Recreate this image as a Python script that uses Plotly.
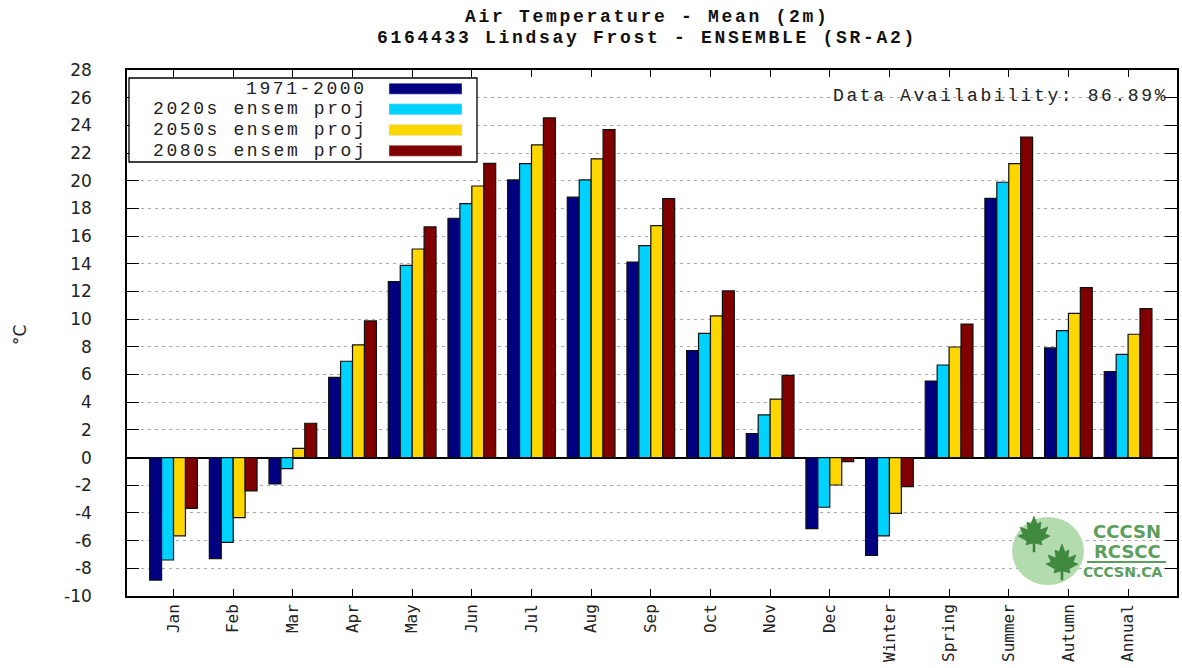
import plotly.graph_objects as go

categories = ["Jan", "Feb", "Mar", "Apr", "May", "Jun", "Jul", "Aug", "Sep", "Oct", "Nov", "Dec",
              "Winter", "Spring", "Summer", "Autumn", "Annual"]

base_1971_2000 = [-8.85, -7.30, -1.91, 5.80, 12.71, 17.29, 20.06, 18.81, 14.13, 7.73, 1.73, -5.13,
                  -7.06, 5.53, 18.73, 7.92, 6.21]
ens_2020s = [-7.40, -6.12, -0.80, 6.96, 13.89, 18.35, 21.24, 20.06, 15.31, 8.98, 3.08, -3.59,
             -5.66, 6.69, 19.89, 9.17, 7.46]
ens_2050s = [-5.66, -4.34, 0.67, 8.14, 15.07, 19.62, 22.59, 21.58, 16.76, 10.23, 4.23, -1.98,
             -4.03, 7.99, 21.24, 10.42, 8.91]
ens_2080s = [-3.67, -2.41, 2.48, 9.87, 16.66, 21.26, 24.54, 23.69, 18.71, 12.04, 5.94, -0.29,
             -2.10, 9.65, 23.16, 12.28, 10.76]

series_names = ["1971-2000", "2020s ensem proj", "2050s ensem proj", "2080s ensem proj"]
series_values = [base_1971_2000, ens_2020s, ens_2050s, ens_2080s]
series_colors = ["#000080", "#00d2ff", "#ffd700", "#800000"]

y_ticks = list(range(-10, 29, 2))

title_lines = ["Air Temperature - Mean (2m)", "6164433 Lindsay Frost - ENSEMBLE (SR-A2)"]

W, H = 1182, 668
L, R, T, B = 127, 5, 70, 72
PW, PH = W - L - R, H - T - B


def px(xp):
    return (xp - L) / PW


def py(yp):
    return (H - B - yp) / PH


fig = go.Figure()
for name, vals, col in zip(series_names, series_values, series_colors):
    fig.add_trace(go.Bar(
        x=categories, y=vals, name=name,
        marker=dict(color=col, line=dict(color="#111111", width=1.2)),
        showlegend=False,
    ))

mono = "Liberation Mono"
shapes = []
annotations = []

# titles
for txt, ty in zip(title_lines, [17, 38]):
    annotations.append(dict(
        xref="paper", yref="paper", x=px(647), y=py(ty), xanchor="center", yanchor="middle",
        text='<span style="letter-spacing:2.7px">' + txt + '</span>', showarrow=False,
        font=dict(family=mono, size=18, color="#111111", weight="bold")))

# y axis label
annotations.append(dict(
    xref="paper", yref="paper", x=px(20), y=py(335), xanchor="center", yanchor="middle",
    text="°C", textangle=-90, showarrow=False,
    font=dict(family="DejaVu Sans", size=17, color="#222222")))

# custom legend (text left, swatch right) as in the reference
shapes.append(dict(type="rect", xref="paper", yref="paper",
                   x0=px(129), x1=px(477), y0=py(162), y1=py(78),
                   line=dict(color="black", width=1.3), fillcolor="white", layer="above"))
row_y = [88.7, 109.3, 130.0, 150.7]
for name, col, ry in zip(series_names, series_colors, row_y):
    shapes.append(dict(type="rect", xref="paper", yref="paper",
                       x0=px(389), x1=px(462), y0=py(ry + 5.5), y1=py(ry - 5.5),
                       line=dict(color="#dddddd", width=0.5), fillcolor=col, layer="above"))
    annotations.append(dict(
        xref="paper", yref="paper", x=px(369), y=py(ry), xanchor="right", yanchor="middle",
        text='<span style="letter-spacing:2.6px">' + name + '</span>', showarrow=False,
        font=dict(family=mono, size=18, color="#222222")))

annotations.append(dict(
    xref="paper", yref="paper", x=px(1170), y=py(96), xanchor="right", yanchor="middle",
    text='<span style="letter-spacing:2.6px">Data Availability: 86.89%</span>', showarrow=False,
    font=dict(family=mono, size=18, color="#222222")))

# logo
shapes.append(dict(type="circle", xref="paper", yref="paper",
                   x0=px(1012), x1=px(1084), y0=py(585), y1=py(517),
                   line=dict(width=0), fillcolor="#b3dcae", layer="above"))
leaf = [(0, 1), (0.15, 0.6), (0.35, 0.7), (0.3, 0.3), (0.7, 0.45), (0.55, 0.1), (0.8, 0),
        (0.35, -0.25), (0.4, -0.45), (0.05, -0.35), (0.05, -0.8), (-0.05, -0.8), (-0.05, -0.35),
        (-0.4, -0.45), (-0.35, -0.25), (-0.8, 0), (-0.55, 0.1), (-0.7, 0.45), (-0.3, 0.3),
        (-0.35, 0.7), (-0.15, 0.6)]
for cx, cy, s in [(1034, 536, 20), (1062, 564, 20)]:
    pts = [(px(cx + s * a), py(cy - s * b)) for a, b in leaf]
    path = "M " + " L ".join(f"{a:.5f},{b:.5f}" for a, b in pts) + " Z"
    shapes.append(dict(type="path", xref="paper", yref="paper", path=path,
                       line=dict(color="#2f6e2f", width=0.5), fillcolor="#3f8a3f", layer="above"))
green = "#5c9e5c"
for txt, ty, sz, cx in [("CCCSN", 531, 18, 1127), ("RCSCC", 551, 18, 1127), ("CCCSN.CA", 572, 14, 1122)]:
    annotations.append(dict(xref="paper", yref="paper", x=px(cx), y=py(ty),
                            xanchor="center", yanchor="middle", text="<b>" + txt + "</b>",
                            showarrow=False, font=dict(family="DejaVu Sans", size=sz, color=green)))
shapes.append(dict(type="line", xref="paper", yref="paper", x0=px(1087), x1=px(1166),
                   y0=py(562), y1=py(562), line=dict(color=green, width=2), layer="above"))

fig.update_layout(
    width=W, height=H,
    margin=dict(l=L, r=R, t=T, b=B, autoexpand=False),
    paper_bgcolor="white", plot_bgcolor="white",
    barmode="group", bargap=0.2, bargroupgap=0.0,
    shapes=shapes, annotations=annotations,
    xaxis=dict(
        type="category", range=[-0.78, 16.82], tickangle=-90, automargin=False,
        tickfont=dict(family="DejaVu Sans Mono", size=16, color="#222222"),
        ticks="inside", ticklen=7, tickcolor="black", tickwidth=1.2,
        showline=True, linecolor="black", linewidth=1.5, mirror="allticks",
        showgrid=False, fixedrange=True,
    ),
    yaxis=dict(
        range=[-10, 28], tickvals=y_ticks, ticktext=[str(v) for v in y_ticks], automargin=False,
        tickfont=dict(family="DejaVu Sans", size=17, color="#222222"),
        ticks="inside", ticklen=12, tickcolor="black", tickwidth=1.2, ticklabelstandoff=30,
        showline=True, linecolor="black", linewidth=1.5, mirror="allticks",
        showgrid=True, gridcolor="#a8a8a8", gridwidth=1, griddash="3px,4px",
        zeroline=True, zerolinecolor="black", zerolinewidth=1.5,
        fixedrange=True,
    ),
)

fig.write_html("out.html", config={"displayModeBar": False},
               post_script="document.body.style.margin='0';document.body.style.overflow='hidden';")
